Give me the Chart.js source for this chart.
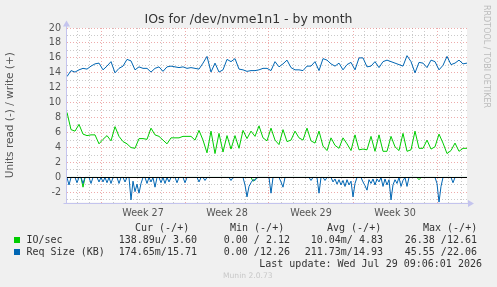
<!DOCTYPE html>
<html><head><meta charset="utf-8">
<script src="https://cdn.jsdelivr.net/npm/chart.js@4/dist/chart.umd.min.js"></script>
<style>
html,body{margin:0;padding:0;background:#f0f0f0;}
#wrap{position:relative;width:497px;height:287px;overflow:hidden;background:#f0f0f0;}
#c{position:absolute;left:0;top:0;}
.t{position:absolute;white-space:pre;font-family:"DejaVu Sans Mono",monospace;font-size:10px;line-height:12px;color:#333;}
.sq{position:absolute;width:6px;height:6px;}
#title{position:absolute;left:0;width:497px;top:11px;text-align:center;font-family:"DejaVu Sans",sans-serif;font-size:12.5px;line-height:16px;color:#333;white-space:pre;}
#rrd{position:absolute;left:482px;top:5px;writing-mode:vertical-rl;font-family:"DejaVu Sans",sans-serif;font-size:8px;line-height:9px;color:#bbb;white-space:pre;}
#munin{position:absolute;left:223px;top:270px;font-family:"DejaVu Sans",sans-serif;font-size:7.6px;line-height:12px;color:#c8c8c8;white-space:pre;}
</style></head><body>
<div id="wrap">
<canvas id="c" width="497" height="287"></canvas>
<div id="title">IOs for /dev/nvme1n1 - by month</div>
<div id="rrd">RRDTOOL / TOBI OETIKER</div>
<div id="munin">Munin 2.0.73</div>
</div>
<script>
// ---- data (hour 0 = Monday start of Week 27) ----
const firstSampleHour = -68;
const writeStepHours = 8;   // write (+) series sampled every 8 h
const readStepHours = 4;    // read (-) series sampled every 4 h
const weekLabels = ['Week 27', 'Week 28', 'Week 29', 'Week 30'];
const yTickValues = [-3,-2,-1,0,1,2,3,4,5,6,7,8,9,10,11,12,13,14,15,16,17,18,19,20];

// IO/sec write (+)
const ioWrite = [8.7,6.4,6.2,7.1,5.8,5.6,5.7,5.7,4.5,5.1,5.6,4.9,6.8,5.5,4.8,4.5,4.0,3.9,5.2,5.2,5.1,6.6,5.7,5.5,5.0,4.5,5.3,5.3,5.3,5.5,5.5,5.5,5.0,6.3,
  5.0,3.3,6.2,3.2,5.9,3.4,5.6,3.8,5.6,3.9,6.3,5.2,
  6.2,5.5,6.9,5.3,4.9,6.6,5.0,4.4,6.4,4.8,5.0,6.2,5.3,5.0,6.6,4.9,4.6,6.2,4.2,3.6,5.3,4.3,
  3.9,5.3,4.5,3.6,5.7,3.7,3.8,3.7,5.5,3.5,5.7,3.5,3.5,5.5,4.1,3.6,5.9,3.5,3.7,6.2,3.9,3.9,5.0,3.8,4.1,5.8,4.6,3.2,3.6,4.6,3.5,3.9,3.9];
// Req Size (KB) write (+)
const reqWrite = [13.5,14.3,14.1,14.4,14.6,14.5,14.9,15.2,15.3,14.4,14.9,15.5,14.0,14.6,14.9,15.8,15.6,14.4,14.8,14.6,14.6,14.1,14.6,14.8,14.2,14.8,14.9,14.8,14.7,14.8,14.6,14.7,14.6,14.5,
  15.3,16.2,14.1,15.3,14.1,14.4,15.8,15.5,15.9,14.5,14.4,14.2,14.3,14.3,14.4,14.6,14.6,14.3,15.5,14.8,15.2,15.7,14.7,14.4,14.4,14.3,14.9,14.9,15.5,14.3,15.9,15.7,15.2,14.9,
  15.3,14.4,15.1,15.4,14.4,16.0,16.0,14.8,14.9,15.5,14.7,15.5,15.7,15.5,15.3,15.1,14.9,16.3,15.5,14.0,15.4,15.3,14.7,15.7,15.5,14.4,15.0,16.2,15.1,15.3,15.7,15.2,15.3];
// IO/sec read (-), magnitudes
const ioRead = [
  0,0,0,0,0,0,0,0,1.3,0,  0,0,0,0,0,0,0,0,0,0,  0,0,0,0,0,0,0,0,0,0,  0,0,0,0,0,0,0,0,0,0,
  0,0,0,0,0,0,0,0,0,0,    0,0,0,0,0,0,0,0,0,0,  0,0,0,0,0,0,0,0,0,0,  0,0,0,0,0,0,0,0,0,0,
  0,0,0,0,0,0,0,0,0,0,    0,0,0,0.5,0.3,0,0,0,0,0,  0,0,0,0,0,0,0,0,0,0,  0,0,0,0,0,0,0,0,0,0,
  0,0,0,0,0,0,0,0,0,0,    0,0,0,0,0,0,0,0,0,0,  0,0,0,0,0,0,0,0,0,0,  0,0,0,0,0,0,0,0,0,0,
  0,0,0,0,0,0,0,0,0,0,    0,0,0,0,0,0,0.3,0,0,0,  0,0,0,0,0,0,0,0,0,0,  0,0,0,0,0,0,0,0,0,0,
  0];
// Req Size (KB) read (-), magnitudes
const reqRead = [
  0,1.0,0,0,0,0.7,0,0,0.8,0,     0,0,0.8,0,0,0,0.6,0,0.6,0,
  0.7,0,0.8,0,0,0,0.8,0,0,0.6,   0,0,3.0,0.5,1.9,0.9,2.1,0.8,0,0,
  0.8,0,0.6,0,1.3,0,0,0.7,0,0.8, 0,0.6,0,0,0,0.7,0,0,0,0.7,
  0,0,0,0,0,0,0.6,0,0,0.4,       0,0,0,0,0,0,0,0,0,0,
  0,0,0.4,0,0,0,0,0,0,1.0,       2.6,1.2,0.7,0.3,0.4,0,0,0,0,0,
  0,0,2.1,0,0,0,0,0.6,1.3,0,     0,0,0,0,0,0,0,0,0,0,
  0,0,0.4,0,0,0,2.1,0,0,0.4,     0,0,0,0.6,0.2,0.9,0.3,1.0,0.4,1.2,
  0.3,1.0,0.5,2.6,0.8,0,0,0,0.6,1.1, 1.7,0.3,0.8,0.2,1.0,0.2,0.6,0,1.2,0.2,
  1.0,0.3,3.0,1.0,0.3,0.8,0,1.2,0.4,0, 1.2,0,0,0,0,0,0,0,0,0,
  0,0,0,0,0,0.8,3.3,1.2,0,0,     0,0,0,0.7,0,0,0,0,0,0,
  0];

// legend table
const legendNames = ['IO/sec', 'Req Size (KB)'];
const legendColors = ['#00cc00', '#0066b3'];
const legendCur = ['138.89u/ 3.60', '174.65m/15.71'];
const legendMin = ['0.00 / 2.12', '0.00 /12.26'];
const legendAvg = ['10.04m/ 4.83', '211.73m/14.93'];
const legendMax = ['26.38 /12.61', '45.55 /22.06'];
const legendHeaders = ['Cur (-/+)', 'Min (-/+)', 'Avg (-/+)', 'Max (-/+)'];
const lastUpdate = 'Last update: Wed Jul 29 09:06:01 2026';

// ---- build legend (HTML text) ----
const wrap = document.getElementById('wrap');
function addText(txt, left, cy, right) {
  const d = document.createElement('div');
  d.className = 't';
  d.textContent = txt;
  d.style.top = (cy - 6) + 'px';
  if (right !== undefined) { d.style.right = (497 - right) + 'px'; d.style.textAlign = 'right'; }
  else d.style.left = left + 'px';
  wrap.appendChild(d);
}
const headerLeft = [135, 230, 327, 423];
legendHeaders.forEach((h, i) => addText(h, headerLeft[i], 227.5));
const colRight = [197, 290, 383, 477];
const rowY = [240, 252];
legendNames.forEach((n, i) => {
  const sq = document.createElement('div');
  sq.className = 'sq';
  sq.style.left = '14px';
  sq.style.top = (rowY[i] - 3) + 'px';
  sq.style.background = legendColors[i];
  wrap.appendChild(sq);
  addText(n, 26.5, rowY[i]);
  addText(legendCur[i], 0, rowY[i], colRight[0]);
  addText(legendMin[i], 0, rowY[i], colRight[1]);
  addText(legendAvg[i], 0, rowY[i], colRight[2]);
  addText(legendMax[i], 0, rowY[i], colRight[3]);
});
addText(lastUpdate, 0, 263.5, 482);

// ---- chart ----
const pts = (arr, step, sign) => arr.map((v, i) => ({x: (firstSampleHour + i * step) / 24, y: sign * v}));
const xMin = firstSampleHour / 24;
const xMax = (firstSampleHour + (ioWrite.length - 1) * writeStepHours) / 24;
const xTickValues = [];
for (let d = Math.ceil(xMin); d <= Math.floor(xMax); d++) xTickValues.push(d);
weekLabels.forEach((w, i) => xTickValues.push(i * 7 + 3.5));
xTickValues.sort((a, b) => a - b);

const RED = 'rgba(228,120,120,0.62)';
const GRAY = 'rgba(150,150,150,0.5)';
const AXIS = '#c4c4ee';

const muninPlugin = {
  id: 'munin',
  beforeDraw(chart) {
    const {ctx, chartArea: a} = chart;
    ctx.save();
    ctx.fillStyle = '#ffffff';
    ctx.fillRect(a.left, a.top, a.right - a.left, a.bottom - a.top);
    ctx.restore();
  },
  afterDatasetsDraw(chart) {
    const {ctx, chartArea: a, scales} = chart;
    const y0 = Math.round(scales.y.getPixelForValue(0)) + 0.5;
    ctx.save();
    ctx.strokeStyle = '#000';
    ctx.lineWidth = 1;
    ctx.beginPath();
    ctx.moveTo(a.left, y0); ctx.lineTo(a.right, y0);
    ctx.stroke();
    ctx.restore();
  },
  afterDraw(chart) {
    const {ctx, chartArea: a} = chart;
    const xl = Math.round(a.left) - 0.5, yb = Math.round(a.bottom) + 0.5;
    ctx.save();
    ctx.strokeStyle = AXIS; ctx.fillStyle = AXIS; ctx.lineWidth = 1;
    ctx.beginPath();
    ctx.moveTo(xl, yb); ctx.lineTo(xl, a.top - 2);
    ctx.moveTo(xl - 3, yb); ctx.lineTo(a.right + 1, yb);
    ctx.stroke();
    ctx.beginPath();
    ctx.moveTo(xl - 3.5, a.top - 1.5); ctx.lineTo(xl + 3.5, a.top - 1.5); ctx.lineTo(xl, a.top - 7.5); ctx.closePath();
    ctx.fill();
    ctx.beginPath();
    ctx.moveTo(a.right + 1, yb - 3.5); ctx.lineTo(a.right + 1, yb + 3.5); ctx.lineTo(a.right + 7, yb); ctx.closePath();
    ctx.fill();
    ctx.restore();
  }
};

new Chart(document.getElementById('c'), {
  type: 'line',
  data: {
    datasets: [
      {label: 'IO/sec write', data: pts(ioWrite, writeStepHours, 1), borderColor: '#00cc00'},
      {label: 'Req Size write', data: pts(reqWrite, writeStepHours, 1), borderColor: '#0066b3'},
      {label: 'Req Size read', data: pts(reqRead, readStepHours, -1), borderColor: '#0066b3'},
      {label: 'IO/sec read', data: pts(ioRead, readStepHours, -1), borderColor: '#00cc00'}
    ]
  },
  options: {
    responsive: false,
    animation: false,
    devicePixelRatio: 1,
    layout: {padding: {left: 0, right: 30, top: 28, bottom: 0}},
    plugins: {legend: {display: false}, tooltip: {enabled: false}, title: {display: false}},
    elements: {point: {radius: 0}, line: {borderWidth: 1, tension: 0, fill: false}},
    scales: {
      x: {
        type: 'linear', min: xMin, max: xMax,
        afterBuildTicks: s => { s.ticks = xTickValues.map(v => ({value: v})); },
        afterFit: s => { s.height = 84.5; },
        grid: {
          drawTicks: false, lineWidth: 1,
          color: c => {
            const v = c.tick ? c.tick.value : 0.5;
            if (Number.isInteger(v)) return (v % 7 === 0) ? RED : GRAY;
            return 'rgba(0,0,0,0)';
          }
        },
        border: {display: false, dash: [1, 2]},
        ticks: {
          autoSkip: false, maxRotation: 0, minRotation: 0, padding: 5,
          font: {family: 'DejaVu Sans', size: 9.6}, color: '#555',
          callback: v => {
            const w = (v - 3.5) / 7;
            return Number.isInteger(w) && w >= 0 && w < weekLabels.length ? weekLabels[w] : '';
          }
        }
      },
      y: {
        min: -3.35, max: 20,
        afterBuildTicks: s => { s.ticks = yTickValues.map(v => ({value: v})); },
        afterFit: s => { s.width = 67; },
        grid: {
          drawTicks: false, lineWidth: 1,
          color: c => {
            const v = c.tick ? c.tick.value : 1;
            return (v % 2 === 0) ? RED : GRAY;
          }
        },
        border: {display: false, dash: [1, 2]},
        ticks: {
          padding: 6, autoSkip: false,
          font: {family: 'DejaVu Sans', size: 9.6}, color: '#555',
          callback: v => (v % 2 === 0 ? String(v) : '')
        },
        title: {
          display: true, text: 'Units read (-) / write (+)',
          font: {family: 'DejaVu Sans', size: 10.5, lineHeight: 1}, color: '#555',
          padding: {top: 5, bottom: 0}
        }
      }
    }
  },
  plugins: [muninPlugin]
});
</script>
</body></html>
